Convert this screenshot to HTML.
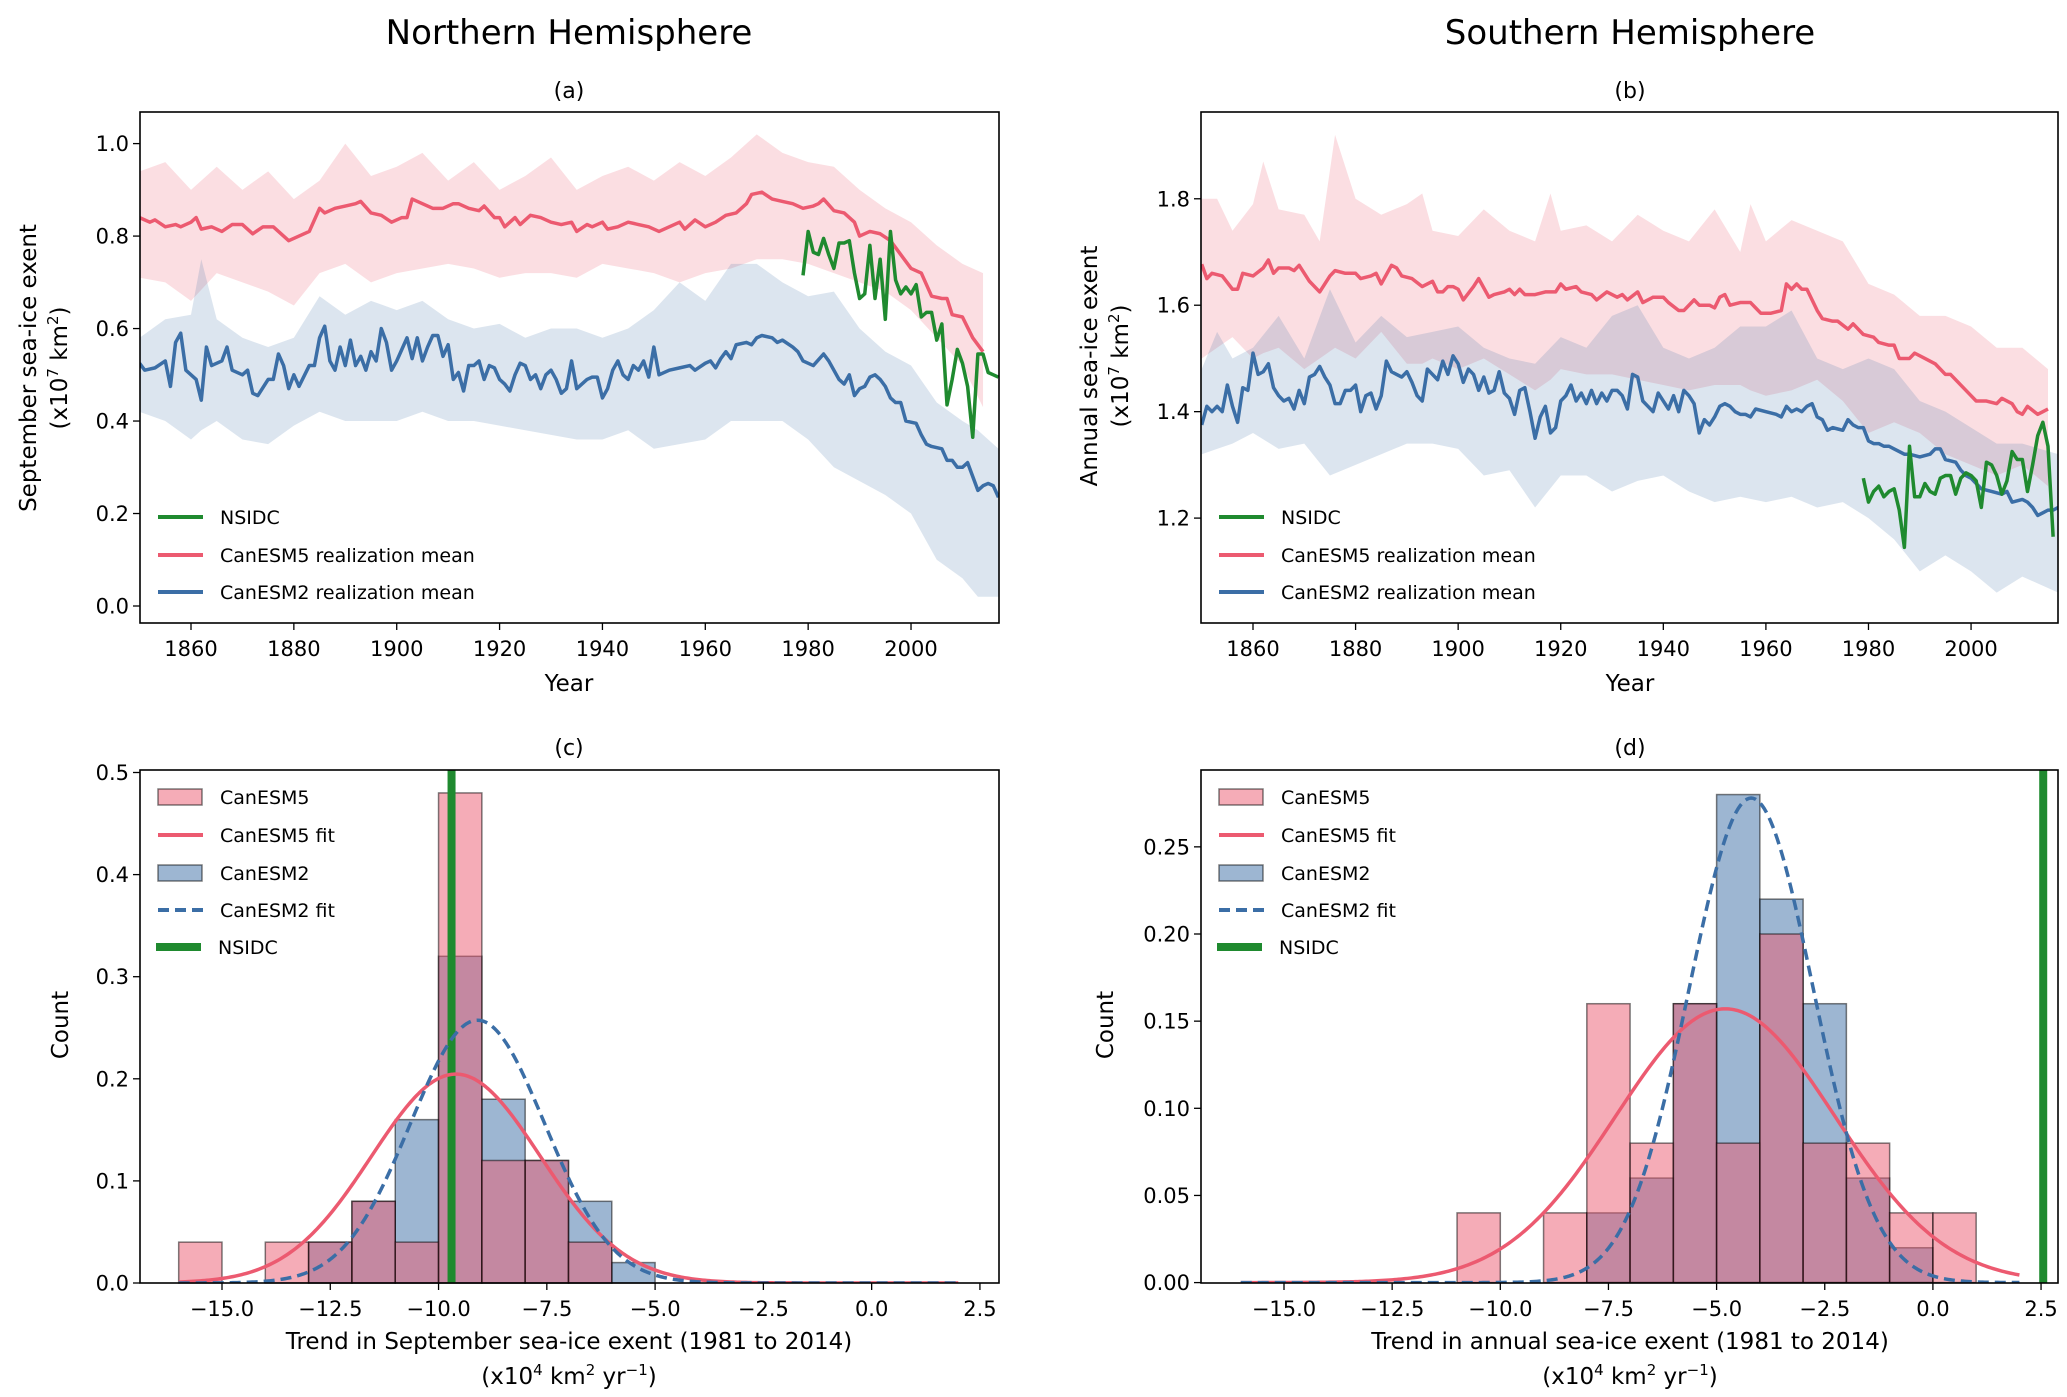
<!DOCTYPE html>
<html><head><meta charset="utf-8">
<style>
html,body{margin:0;padding:0;background:#fff;}
svg{display:block;font-family:"DejaVu Sans","Liberation Sans",sans-serif;}
</style></head>
<body>
<svg id="fig" width="2067" height="1397" viewBox="0 0 2067 1397">
<defs>
<clipPath id="clipA"><rect x="140" y="112" width="859" height="511"/></clipPath>
<clipPath id="clipB"><rect x="1201" y="112" width="857" height="511"/></clipPath>
<clipPath id="clipC"><rect x="140" y="770" width="859" height="513"/></clipPath>
<clipPath id="clipD"><rect x="1201" y="770" width="857" height="513"/></clipPath>
</defs>
<rect width="2067" height="1397" fill="#fff"/>
<text x="569" y="44" font-size="34" text-anchor="middle">Northern Hemisphere</text>
<text x="1630" y="44" font-size="34" text-anchor="middle">Southern Hemisphere</text>
<text x="569" y="98" font-size="22" text-anchor="middle">(a)</text>
<text x="1630" y="98" font-size="22" text-anchor="middle">(b)</text>
<text x="569" y="755" font-size="22" text-anchor="middle">(c)</text>
<text x="1630" y="755" font-size="22" text-anchor="middle">(d)</text>
<text x="569" y="691" font-size="23" text-anchor="middle">Year</text>
<text x="1630" y="691" font-size="23" text-anchor="middle">Year</text>
<g transform="translate(36,368) rotate(-90)">
<text x="0" y="0" font-size="23" text-anchor="middle">September sea-ice exent</text>
<text x="0" y="31" font-size="23" text-anchor="middle">(x10<tspan font-size="15" dy="-9">7</tspan><tspan dy="9"> km</tspan><tspan font-size="15" dy="-9">2</tspan><tspan dy="9">)</tspan></text>
</g>
<g transform="translate(1097,366) rotate(-90)">
<text x="0" y="0" font-size="23" text-anchor="middle">Annual sea-ice exent</text>
<text x="0" y="31" font-size="23" text-anchor="middle">(x10<tspan font-size="15" dy="-9">7</tspan><tspan dy="9"> km</tspan><tspan font-size="15" dy="-9">2</tspan><tspan dy="9">)</tspan></text>
</g>
<text transform="translate(68,1025) rotate(-90)" font-size="23" text-anchor="middle">Count</text>
<text transform="translate(1113,1025) rotate(-90)" font-size="23" text-anchor="middle">Count</text>
<text x="569" y="1349" font-size="23" text-anchor="middle">Trend in September sea-ice exent (1981 to 2014)</text>
<text x="569" y="1384" font-size="23" text-anchor="middle">(x10<tspan font-size="15" dy="-9">4</tspan><tspan dy="9"> km</tspan><tspan font-size="15" dy="-9">2</tspan><tspan dy="9"> yr</tspan><tspan font-size="15" dy="-9">−1</tspan><tspan dy="9">)</tspan></text>
<text x="1630" y="1349" font-size="23" text-anchor="middle">Trend in annual sea-ice exent (1981 to 2014)</text>
<text x="1630" y="1384" font-size="23" text-anchor="middle">(x10<tspan font-size="15" dy="-9">4</tspan><tspan dy="9"> km</tspan><tspan font-size="15" dy="-9">2</tspan><tspan dy="9"> yr</tspan><tspan font-size="15" dy="-9">−1</tspan><tspan dy="9">)</tspan></text>
</svg>
<script>
// ---------- Panel (a) data ----------
const yrs5a=[1850,1852,1853,1855,1857,1858,1860,1861,1862,1864,1866,1868,1870,1872,1874,1876,1878,1879,1881,1883,1885,1886,1888,1890,1892,1893,1895,1897,1899,1901,1902,1903,1905,1907,1909,1911,1912,1914,1916,1917,1919,1920,1921,1923,1924,1926,1928,1930,1932,1934,1935,1937,1938,1940,1941,1943,1945,1947,1949,1951,1953,1955,1956,1958,1960,1962,1964,1966,1968,1969,1971,1973,1975,1977,1979,1981,1982,1983,1985,1987,1989,1990,1992,1994,1996,1998,2000,2002,2004,2006,2007,2008,2010,2012,2014];
const vals5a=[0.84,0.83,0.835,0.82,0.825,0.82,0.83,0.84,0.815,0.82,0.81,0.825,0.825,0.805,0.82,0.82,0.80,0.79,0.80,0.81,0.86,0.85,0.86,0.865,0.87,0.875,0.85,0.845,0.83,0.84,0.84,0.88,0.87,0.86,0.86,0.87,0.87,0.86,0.855,0.865,0.84,0.84,0.82,0.84,0.825,0.845,0.84,0.83,0.825,0.83,0.81,0.825,0.82,0.83,0.815,0.82,0.83,0.825,0.82,0.81,0.82,0.83,0.815,0.835,0.82,0.83,0.845,0.85,0.87,0.89,0.895,0.88,0.875,0.87,0.86,0.865,0.87,0.88,0.855,0.85,0.83,0.80,0.81,0.805,0.79,0.76,0.73,0.72,0.67,0.665,0.665,0.63,0.625,0.58,0.55];
const yrs2a=[1850,1851,1853,1855,1856,1857,1858,1859,1861,1862,1863,1864,1866,1867,1868,1870,1871,1872,1873,1875,1876,1877,1878,1879,1880,1881,1883,1884,1885,1886,1887,1888,1889,1890,1891,1892,1893,1894,1895,1896,1897,1898,1899,1900,1901,1902,1903,1904,1905,1906,1907,1908,1909,1910,1911,1912,1913,1914,1915,1916,1917,1918,1919,1920,1921,1922,1923,1924,1925,1926,1927,1928,1929,1930,1931,1932,1933,1934,1935,1936,1937,1938,1939,1940,1941,1942,1943,1944,1945,1946,1947,1948,1949,1950,1951,1953,1955,1957,1958,1960,1961,1962,1963,1964,1965,1966,1968,1969,1970,1971,1973,1974,1975,1977,1978,1979,1981,1983,1984,1985,1986,1987,1988,1989,1990,1991,1992,1993,1994,1995,1996,1997,1998,1999,2001,2002,2003,2004,2006,2007,2008,2009,2010,2011,2012,2013,2014,2015,2016,2017];
const vals2a=[0.525,0.51,0.515,0.53,0.475,0.57,0.59,0.51,0.49,0.445,0.56,0.52,0.53,0.56,0.51,0.50,0.51,0.46,0.455,0.49,0.49,0.545,0.52,0.47,0.50,0.475,0.52,0.52,0.58,0.605,0.53,0.51,0.56,0.52,0.575,0.52,0.54,0.51,0.55,0.53,0.60,0.57,0.51,0.53,0.555,0.58,0.535,0.58,0.53,0.56,0.585,0.585,0.54,0.565,0.49,0.505,0.465,0.52,0.52,0.53,0.49,0.52,0.515,0.49,0.48,0.465,0.50,0.525,0.52,0.49,0.50,0.47,0.50,0.51,0.49,0.46,0.47,0.53,0.47,0.48,0.49,0.495,0.495,0.45,0.47,0.51,0.53,0.50,0.49,0.52,0.51,0.53,0.495,0.56,0.50,0.51,0.515,0.52,0.51,0.525,0.53,0.515,0.535,0.55,0.535,0.565,0.57,0.565,0.58,0.585,0.58,0.57,0.575,0.56,0.55,0.53,0.52,0.545,0.53,0.51,0.49,0.48,0.50,0.455,0.47,0.475,0.495,0.50,0.49,0.475,0.45,0.44,0.44,0.40,0.395,0.37,0.35,0.345,0.34,0.315,0.315,0.30,0.30,0.31,0.28,0.25,0.26,0.265,0.26,0.235];
const yrsNa=[1979,1980,1981,1982,1983,1984,1985,1986,1987,1988,1989,1990,1991,1992,1993,1994,1995,1996,1997,1998,1999,2000,2001,2002,2003,2004,2005,2006,2007,2008,2009,2010,2011,2012,2013,2014,2015,2016,2017];
const valsNa=[0.715,0.81,0.765,0.76,0.795,0.76,0.73,0.785,0.785,0.79,0.72,0.665,0.675,0.78,0.665,0.75,0.62,0.81,0.705,0.675,0.69,0.675,0.695,0.625,0.635,0.635,0.575,0.61,0.435,0.49,0.555,0.525,0.475,0.365,0.545,0.545,0.505,0.50,0.495];
const bandYrs5a=[1850,1855,1860,1865,1870,1875,1880,1885,1890,1895,1900,1905,1910,1915,1920,1925,1930,1935,1940,1945,1950,1955,1960,1965,1970,1975,1980,1985,1990,1995,2000,2005,2010,2014];
const bandHi5a=[0.94,0.96,0.90,0.95,0.90,0.94,0.88,0.92,1.0,0.93,0.95,0.98,0.92,0.96,0.90,0.93,0.97,0.90,0.93,0.95,0.92,0.96,0.93,0.97,1.02,0.98,0.96,0.95,0.90,0.86,0.83,0.78,0.74,0.72];
const bandLo5a=[0.71,0.70,0.66,0.72,0.70,0.68,0.65,0.72,0.74,0.70,0.72,0.73,0.74,0.73,0.71,0.72,0.72,0.71,0.74,0.73,0.72,0.70,0.72,0.73,0.75,0.75,0.74,0.72,0.70,0.68,0.64,0.58,0.52,0.43];
const bandYrs2a=[1850,1855,1860,1862,1865,1870,1875,1880,1885,1890,1895,1900,1905,1910,1915,1920,1925,1930,1935,1940,1945,1950,1955,1960,1965,1970,1975,1980,1985,1990,1995,2000,2005,2010,2013,2017];
const bandHi2a=[0.58,0.62,0.63,0.75,0.62,0.58,0.56,0.58,0.67,0.63,0.66,0.64,0.66,0.62,0.60,0.61,0.58,0.60,0.60,0.58,0.60,0.64,0.70,0.66,0.74,0.74,0.70,0.67,0.68,0.60,0.55,0.52,0.44,0.40,0.38,0.34];
const bandLo2a=[0.42,0.40,0.36,0.38,0.40,0.36,0.35,0.39,0.42,0.40,0.40,0.40,0.42,0.40,0.40,0.39,0.38,0.37,0.36,0.36,0.38,0.34,0.35,0.36,0.40,0.40,0.40,0.36,0.30,0.27,0.24,0.20,0.10,0.06,0.02,0.02];
const yTicksA=[0.0,0.2,0.4,0.6,0.8,1.0];
const yTickLabelsA=["0.0","0.2","0.4","0.6","0.8","1.0"];
const xTicksYears=[1860,1880,1900,1920,1940,1960,1980,2000];

// ---------- Panel (b) data ----------
const yrs5b=[1850,1851,1852,1854,1856,1857,1858,1860,1862,1863,1864,1865,1867,1868,1869,1871,1873,1875,1876,1878,1880,1881,1883,1884,1885,1887,1888,1889,1891,1893,1895,1896,1897,1898,1899,1900,1901,1903,1904,1906,1907,1909,1910,1911,1912,1913,1915,1917,1919,1920,1921,1923,1924,1926,1927,1929,1931,1932,1933,1935,1936,1938,1940,1941,1943,1944,1946,1947,1949,1950,1951,1952,1953,1955,1957,1958,1959,1961,1963,1964,1965,1966,1967,1968,1970,1971,1973,1974,1976,1977,1979,1981,1982,1984,1985,1986,1988,1989,1991,1993,1995,1996,1998,2000,2001,2003,2005,2006,2008,2009,2010,2011,2013,2014,2015];
const vals5b=[1.677,1.65,1.66,1.655,1.63,1.63,1.66,1.655,1.67,1.685,1.66,1.67,1.67,1.665,1.675,1.645,1.625,1.655,1.665,1.66,1.66,1.65,1.655,1.66,1.64,1.675,1.67,1.655,1.65,1.635,1.645,1.625,1.625,1.635,1.635,1.63,1.61,1.635,1.65,1.615,1.62,1.625,1.63,1.62,1.63,1.62,1.62,1.625,1.625,1.64,1.63,1.635,1.625,1.62,1.61,1.625,1.615,1.62,1.61,1.625,1.605,1.615,1.615,1.605,1.59,1.59,1.61,1.60,1.60,1.595,1.615,1.62,1.60,1.605,1.605,1.595,1.585,1.585,1.59,1.64,1.63,1.64,1.63,1.63,1.59,1.575,1.57,1.57,1.555,1.565,1.545,1.54,1.53,1.525,1.525,1.50,1.50,1.51,1.50,1.49,1.47,1.47,1.45,1.43,1.42,1.42,1.415,1.425,1.415,1.40,1.395,1.41,1.395,1.40,1.405];
const yrs2b=[1850,1851,1852,1853,1854,1855,1856,1857,1858,1859,1860,1861,1862,1863,1864,1865,1866,1867,1868,1869,1870,1871,1872,1873,1874,1875,1876,1877,1878,1879,1880,1881,1882,1883,1884,1885,1886,1887,1888,1889,1890,1891,1892,1893,1894,1895,1896,1897,1898,1899,1900,1901,1902,1903,1904,1905,1906,1907,1908,1909,1910,1911,1912,1913,1914,1915,1916,1917,1918,1919,1920,1921,1922,1923,1924,1925,1926,1927,1928,1929,1930,1931,1932,1933,1934,1935,1936,1937,1938,1939,1940,1941,1942,1943,1944,1945,1946,1947,1948,1949,1950,1951,1952,1953,1954,1955,1956,1957,1958,1960,1962,1963,1964,1965,1966,1967,1968,1969,1970,1971,1972,1973,1975,1976,1977,1978,1979,1980,1981,1982,1983,1984,1985,1986,1987,1988,1990,1992,1993,1994,1995,1997,1998,1999,2000,2001,2002,2004,2006,2007,2008,2010,2011,2012,2013,2014,2015,2016,2017];
const vals2b=[1.375,1.41,1.40,1.41,1.40,1.45,1.41,1.38,1.445,1.44,1.51,1.47,1.475,1.49,1.445,1.43,1.42,1.425,1.405,1.44,1.415,1.465,1.47,1.485,1.465,1.45,1.415,1.415,1.44,1.44,1.45,1.40,1.43,1.435,1.405,1.43,1.495,1.475,1.47,1.465,1.475,1.455,1.43,1.42,1.48,1.47,1.46,1.495,1.47,1.505,1.49,1.455,1.48,1.47,1.44,1.465,1.435,1.44,1.475,1.435,1.425,1.395,1.44,1.445,1.40,1.35,1.39,1.41,1.36,1.37,1.42,1.43,1.45,1.42,1.435,1.415,1.44,1.415,1.435,1.42,1.44,1.44,1.43,1.405,1.47,1.465,1.42,1.41,1.40,1.435,1.42,1.405,1.43,1.40,1.44,1.43,1.415,1.36,1.385,1.375,1.39,1.41,1.415,1.41,1.40,1.395,1.395,1.39,1.405,1.40,1.395,1.39,1.41,1.40,1.405,1.40,1.41,1.415,1.39,1.385,1.365,1.37,1.365,1.385,1.375,1.37,1.37,1.345,1.34,1.34,1.335,1.335,1.33,1.325,1.32,1.32,1.315,1.32,1.33,1.33,1.31,1.305,1.29,1.28,1.275,1.265,1.255,1.25,1.245,1.25,1.23,1.235,1.23,1.22,1.205,1.21,1.215,1.215,1.22];
const yrsNb=[1979,1980,1981,1982,1983,1984,1985,1986,1987,1988,1989,1990,1991,1992,1993,1994,1995,1996,1997,1998,1999,2000,2001,2002,2003,2004,2005,2006,2007,2008,2009,2010,2011,2012,2013,2014,2015,2016];
const valsNb=[1.275,1.23,1.25,1.26,1.24,1.25,1.255,1.215,1.145,1.335,1.24,1.24,1.265,1.25,1.245,1.275,1.28,1.28,1.245,1.275,1.285,1.28,1.27,1.22,1.305,1.30,1.28,1.245,1.27,1.325,1.31,1.31,1.25,1.30,1.355,1.38,1.335,1.165];
const bandYrs5b=[1850,1853,1856,1860,1862,1865,1870,1873,1876,1880,1885,1890,1893,1895,1900,1905,1910,1915,1918,1920,1925,1930,1935,1940,1945,1950,1955,1957,1960,1965,1970,1975,1980,1985,1990,1995,2000,2005,2010,2015];
const bandHi5b=[1.80,1.80,1.74,1.79,1.87,1.78,1.77,1.72,1.92,1.80,1.77,1.79,1.81,1.74,1.73,1.78,1.74,1.72,1.81,1.74,1.75,1.72,1.77,1.74,1.72,1.78,1.70,1.79,1.72,1.76,1.74,1.72,1.64,1.62,1.58,1.58,1.56,1.52,1.52,1.48];
const bandLo5b=[1.50,1.52,1.54,1.50,1.51,1.52,1.48,1.50,1.52,1.50,1.55,1.49,1.49,1.50,1.48,1.50,1.47,1.44,1.46,1.48,1.47,1.47,1.46,1.45,1.44,1.45,1.45,1.44,1.43,1.44,1.46,1.42,1.36,1.38,1.36,1.32,1.30,1.28,1.30,1.26];
const bandYrs2b=[1850,1853,1856,1860,1865,1870,1875,1880,1885,1890,1895,1900,1905,1910,1915,1920,1925,1930,1935,1940,1945,1950,1955,1960,1965,1970,1975,1980,1985,1990,1995,2000,2005,2010,2017];
const bandHi2b=[1.48,1.55,1.50,1.52,1.58,1.50,1.63,1.53,1.58,1.54,1.55,1.56,1.52,1.50,1.49,1.54,1.52,1.58,1.60,1.52,1.50,1.52,1.56,1.56,1.59,1.50,1.48,1.50,1.48,1.42,1.40,1.37,1.34,1.34,1.32];
const bandLo2b=[1.32,1.33,1.34,1.36,1.33,1.34,1.28,1.30,1.32,1.34,1.34,1.33,1.28,1.29,1.22,1.28,1.28,1.25,1.27,1.28,1.25,1.23,1.24,1.23,1.24,1.22,1.23,1.20,1.16,1.10,1.13,1.10,1.06,1.09,1.06];
const yTicksB=[1.2,1.4,1.6,1.8];
const yTickLabelsB=["1.2","1.4","1.6","1.8"];

// ---------- Histogram data ----------
const binEdges=[-16,-15,-14,-13,-12,-11,-10,-9,-8,-7,-6,-5,-4,-3,-2,-1,0,1];
const countsC5=[0.04,0,0.04,0.04,0.08,0.04,0.48,0.12,0.12,0.04,0,0,0,0,0,0,0];
const countsC2=[0,0,0,0.04,0.08,0.16,0.32,0.18,0.12,0.08,0.02,0,0,0,0,0,0];
const countsD5=[0,0,0,0,0,0.04,0,0.04,0.16,0.08,0.16,0.08,0.20,0.08,0.08,0.04,0.04];
const countsD2=[0,0,0,0,0,0,0,0,0.04,0.06,0.16,0.28,0.22,0.16,0.06,0.02,0];
const fitC5=[-9.6,1.95];
const fitC2=[-9.1,1.55];
const fitD5=[-4.8,2.54];
const fitD2=[-4.2,1.435];
const nsidcC=[-9.7];
const nsidcD=[2.55];
const xTicksTrend=[-15,-12.5,-10,-7.5,-5,-2.5,0,2.5];
const xTickLabelsTrend=["−15.0","−12.5","−10.0","−7.5","−5.0","−2.5","0.0","2.5"];
const yTicksC=[0,0.1,0.2,0.3,0.4,0.5];
const yTickLabelsC=["0.0","0.1","0.2","0.3","0.4","0.5"];
const yTicksD=[0,0.05,0.10,0.15,0.20,0.25];
const yTickLabelsD=["0.00","0.05","0.10","0.15","0.20","0.25"];

const NS='http://www.w3.org/2000/svg';
const svg=document.getElementById('fig');
const PINK='#ec5a70', BLUE='#3b6ea6', GREEN='#1f8a2f';
function mk(tag,attrs,parent){const el=document.createElementNS(NS,tag);for(const k in attrs)el.setAttribute(k,attrs[k]);(parent||svg).appendChild(el);return el;}

const axA={x0:140,x1:999,y0:112,y1:623,sx:v=>191+(v-1860)*5.143,sy:v=>606-v*462.4,clip:'clipA'};
const axB={x0:1201,x1:2058,y0:112,y1:623,sx:v=>1253+(v-1860)*5.129,sy:v=>518.1-(v-1.2)*532.2,clip:'clipB'};
const axC={x0:140,x1:999,y0:770,y1:1283,sx:v=>222+(v+15)*43.31,sy:v=>1283-v*1021,clip:'clipC'};
const axD={x0:1201,x1:2058,y0:770,y1:1283,sx:v=>1284+(v+15)*43.26,sy:v=>1282.6-v*1743,clip:'clipD'};

function band(ax,yrs,hi,lo,color,op,name){
  let pts=yrs.map((y,i)=>ax.sx(y)+','+ax.sy(hi[i]));
  for(let i=yrs.length-1;i>=0;i--)pts.push(ax.sx(yrs[i])+','+ax.sy(lo[i]));
  const el=mk('polygon',{points:pts.join(' '),fill:color,'fill-opacity':op,'clip-path':'url(#'+ax.clip+')'});
  
  
}
function line(ax,xs,ys,color,w,name,dash){
  const el=mk('polyline',{points:xs.map((x,i)=>ax.sx(x)+','+ax.sy(ys[i])).join(' '),fill:'none',stroke:color,'stroke-width':w,'stroke-linejoin':'round','clip-path':'url(#'+ax.clip+')'});
  if(dash)el.setAttribute('stroke-dasharray',dash);
  
  
}
function frame(ax,name){
  const el=mk('rect',{x:ax.x0,y:ax.y0,width:ax.x1-ax.x0,height:ax.y1-ax.y0,fill:'none',stroke:'#000','stroke-width':1.6});
  
  
}
function xTicks(ax,vals,labels,name){
  vals.forEach((v,i)=>{
    const x=ax.sx(v);
    const t=mk('line',{x1:x,x2:x,y1:ax.y1,y2:ax.y1+7,stroke:'#000','stroke-width':1.3});
    
    
    const tx=mk('text',{x:x,y:ax.y1+33,'font-size':21,'text-anchor':'middle'});
    tx.textContent=labels[i];
    
    
  });
}
function yTicks(ax,vals,labels,name){
  vals.forEach((v,i)=>{
    const y=ax.sy(v);
    const t=mk('line',{x1:ax.x0-7,x2:ax.x0,y1:y,y2:y,stroke:'#000','stroke-width':1.3});
    
    
    const tx=mk('text',{x:ax.x0-11,y:y+7.5,'font-size':21,'text-anchor':'end'});
    tx.textContent=labels[i];
    
    
  });
}
function legendLine(x,y,color,w,label,name,dash){
  const l=mk('line',{x1:x,x2:x+45,y1:y,y2:y,stroke:color,'stroke-width':w});
  if(dash)l.setAttribute('stroke-dasharray',dash);
  
  
  const t=mk('text',{x:x+62,y:y+7,'font-size':19});
  t.textContent=label;
  
  
}
function legendPatch(x,y,color,label,name){
  const r=mk('rect',{x:x,y:y-8,width:44,height:16,fill:color,'fill-opacity':0.5,stroke:'#000','stroke-opacity':0.5,'stroke-width':1.5});
  
  
  const t=mk('text',{x:x+62,y:y+7,'font-size':19});
  t.textContent=label;
  
  
}
function hist(ax,counts,color,name){
  counts.forEach((c,i)=>{
    if(c<=0)return;
    const x0=ax.sx(binEdges[i]),x1=ax.sx(binEdges[i+1]);
    const r=mk('rect',{x:x0,y:ax.sy(c),width:x1-x0,height:ax.sy(0)-ax.sy(c),fill:color,'fill-opacity':0.5,stroke:'#000','stroke-opacity':0.5,'stroke-width':1.5});
    
    
  });
}
function fit(ax,p,color,name,dash){
  const xs=[],ys=[];
  for(let k=0;k<=360;k++){const x=-16+k*0.05;xs.push(x);ys.push(Math.exp(-0.5*Math.pow((x-p[0])/p[1],2))/(p[1]*Math.sqrt(2*Math.PI)));}
  line(ax,xs,ys,color,3.5,name,dash);
}
function vline(ax,x,name){
  const X=ax.sx(x);
  const el=mk('line',{x1:X,x2:X,y1:ax.y0,y2:ax.y1,stroke:GREEN,'stroke-width':8,'clip-path':'url(#'+ax.clip+')'});
  
  
}

// Panel a
band(axA,bandYrs5a,bandHi5a,bandLo5a,PINK,0.2,'canesm5-range-a');
band(axA,bandYrs2a,bandHi2a,bandLo2a,BLUE,0.18,'canesm2-range-a');
line(axA,yrs2a,vals2a,BLUE,3.5,'canesm2-mean-line-a');
line(axA,yrs5a,vals5a,PINK,3.5,'canesm5-mean-line-a');
line(axA,yrsNa,valsNa,GREEN,3.5,'nsidc-line-a');
frame(axA,'plot-area-a');
xTicks(axA,xTicksYears,xTicksYears.map(String),'x-axis-a');
yTicks(axA,yTicksA,yTickLabelsA,'y-axis-a');
legendLine(158,517,GREEN,4,'NSIDC','legend-nsidc-a');
legendLine(158,555,PINK,4,'CanESM5 realization mean','legend-canesm5-a');
legendLine(158,592,BLUE,4,'CanESM2 realization mean','legend-canesm2-a');

// Panel b
band(axB,bandYrs5b,bandHi5b,bandLo5b,PINK,0.2,'canesm5-range-b');
band(axB,bandYrs2b,bandHi2b,bandLo2b,BLUE,0.18,'canesm2-range-b');
line(axB,yrs2b,vals2b,BLUE,3.5,'canesm2-mean-line-b');
line(axB,yrs5b,vals5b,PINK,3.5,'canesm5-mean-line-b');
line(axB,yrsNb,valsNb,GREEN,3.5,'nsidc-line-b');
frame(axB,'plot-area-b');
xTicks(axB,xTicksYears,xTicksYears.map(String),'x-axis-b');
yTicks(axB,yTicksB,yTickLabelsB,'y-axis-b');
legendLine(1219,517,GREEN,4,'NSIDC','legend-nsidc-b');
legendLine(1219,555,PINK,4,'CanESM5 realization mean','legend-canesm5-b');
legendLine(1219,592,BLUE,4,'CanESM2 realization mean','legend-canesm2-b');

// Panel c
hist(axC,countsC2,BLUE,'canesm2-bar-c');
hist(axC,countsC5,PINK,'canesm5-bar-c');
vline(axC,nsidcC[0],'nsidc-trend-c');
fit(axC,fitC5,PINK,'canesm5-fit-c');
fit(axC,fitC2,BLUE,'canesm2-fit-c','11,6');
frame(axC,'plot-area-c');
xTicks(axC,xTicksTrend,xTickLabelsTrend,'x-axis-c');
yTicks(axC,yTicksC,yTickLabelsC,'y-axis-c');
legendPatch(158,797,PINK,'CanESM5','legend-canesm5-hist-c');
legendLine(158,835,PINK,4,'CanESM5 fit','legend-canesm5-fit-c');
legendPatch(158,873,BLUE,'CanESM2','legend-canesm2-hist-c');
legendLine(158,910,BLUE,4,'CanESM2 fit','legend-canesm2-fit-c','11,6');
legendLine(156,947,GREEN,8,'NSIDC','legend-nsidc-c');

// Panel d
hist(axD,countsD2,BLUE,'canesm2-bar-d');
hist(axD,countsD5,PINK,'canesm5-bar-d');
vline(axD,nsidcD[0],'nsidc-trend-d');
fit(axD,fitD5,PINK,'canesm5-fit-d');
fit(axD,fitD2,BLUE,'canesm2-fit-d','11,6');
frame(axD,'plot-area-d');
xTicks(axD,xTicksTrend,xTickLabelsTrend,'x-axis-d');
yTicks(axD,yTicksD,yTickLabelsD,'y-axis-d');
legendPatch(1219,797,PINK,'CanESM5','legend-canesm5-hist-d');
legendLine(1219,835,PINK,4,'CanESM5 fit','legend-canesm5-fit-d');
legendPatch(1219,873,BLUE,'CanESM2','legend-canesm2-hist-d');
legendLine(1219,910,BLUE,4,'CanESM2 fit','legend-canesm2-fit-d','11,6');
legendLine(1217,947,GREEN,8,'NSIDC','legend-nsidc-d');
</script>
</body></html>
